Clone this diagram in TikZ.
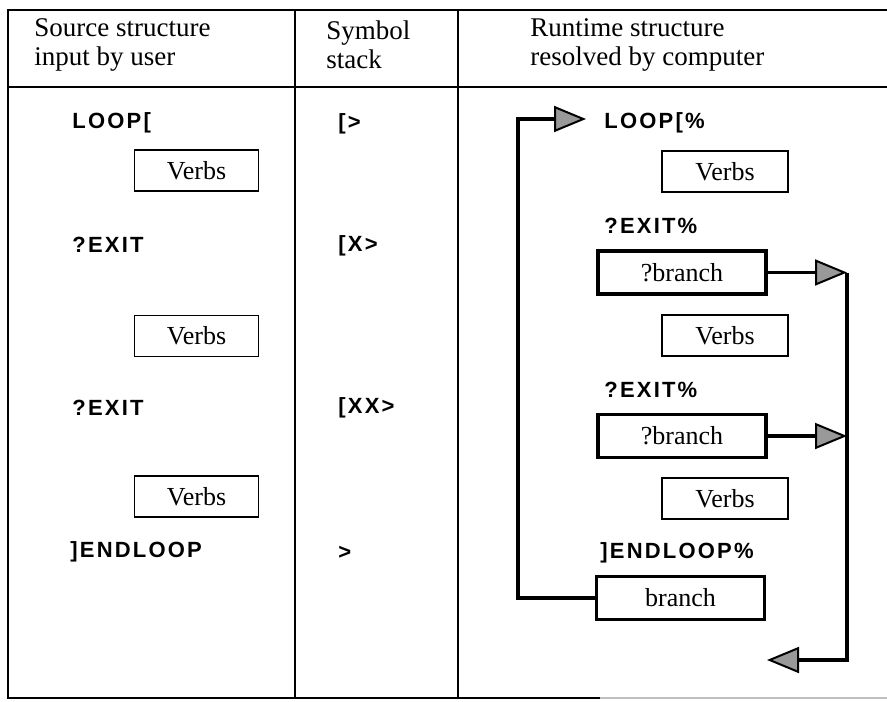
\documentclass[tikz,border=0pt]{standalone}
\usepackage{fontspec}
\setmainfont{Liberation Serif}
\newfontfamily\codefont[LetterSpace=10]{Liberation Sans}
\usepackage{tikz}
\usetikzlibrary{arrows.meta,positioning,calc}

\begin{document}
\begin{tikzpicture}[
    x=0.5pt, y=-0.5pt,
    head/.style={anchor=west, align=left, font=\fontsize{13.5}{14.5}\selectfont, inner sep=0pt},
    code/.style={anchor=west, font=\codefont\bfseries\fontsize{11}{13}\selectfont, inner sep=0pt},
    box/.style={rectangle, draw, line width=0.7pt, minimum width=62pt, minimum height=20.5pt, font=\fontsize{13}{15}\selectfont},
    jumpbox/.style={box, line width=1.7pt, minimum width=84pt, minimum height=21.5pt},
    flow/.style={-{Triangle[length=16pt, width=13pt, fill=gray!80, line width=1pt]}, line width=1.8pt},
    rule/.style={line width=0.8pt}
]
    \useasboundingbox (0,0) rectangle (887,701);

    % table frame
    \draw[rule] (887,10) -- (8,10) -- (8,698) -- (600,698);
    \draw[rule, gray!50] (600,698) -- (887,698);
    \draw[rule] (8,87) -- (887,87);
    \draw[rule] (295,10) -- (295,698);
    \draw[rule] (458,10) -- (458,698);

    % headings
    \node[head] (hsrc) at (34,45) {Source structure\\input by user};
    \node[head] (hstk) at (326,45) {Symbol\\stack};
    \node[head] (hrun) at (530,45) {Runtime structure\\resolved by computer};

    % source column
    \node[code] (sloop) at (72,123) {LOOP[};
    \node[box] (sverbs1) at (196.5,170.5) {Verbs};
    \node[code] (sexit1) at (72,245) {?EXIT};
    \node[box] (sverbs2) at (196.5,336) {Verbs};
    \node[code] (sexit2) at (72,408) {?EXIT};
    \node[box] (sverbs3) at (196.5,496.5) {Verbs};
    \node[code] (send) at (70,552) {]ENDLOOP};

    % symbol stack
    \node[code] (stk1) at (338,124) {[>};
    \node[code] (stk2) at (338,246) {[X>};
    \node[code] (stk3) at (338,408) {[XX>};
    \node[code] (stk4) at (338,553) {>};

    % runtime column
    \node[code] (rloop) at (604,123) {LOOP[\%};
    \node[box, minimum width=63pt] (rverbs1) at (725,171.5) {Verbs};
    \node[code] (rexit1) at (604,226) {?EXIT\%};
    \node[jumpbox] (branch1) at (682,272.5) {?branch};
    \node[box, minimum width=63pt] (rverbs2) at (725,335.5) {Verbs};
    \node[code] (rexit2) at (604,390) {?EXIT\%};
    \node[jumpbox] (branch2) at (682,436) {?branch};
    \node[box, minimum width=63pt] (rverbs3) at (725,498.5) {Verbs};
    \node[code] (rend) at (600,553) {]ENDLOOP\%};
    \node[jumpbox] (jump) at (680.5,598) {branch};

    \coordinate (looptop) at (518,119);
    \coordinate (looptip) at (586,119);
    \coordinate (outtop) at (847,272.5);
    \coordinate (outtip) at (767,660);

    % branches
    \draw[flow] (jump.west) -| (looptop) -- (looptip);
    \draw[flow] (branch1.east) -- (outtop);
    \draw[flow] (branch2.east) -- (branch2.east -| outtop);
    \draw[flow] (outtop) |- (outtip);
\end{tikzpicture}
\end{document}
